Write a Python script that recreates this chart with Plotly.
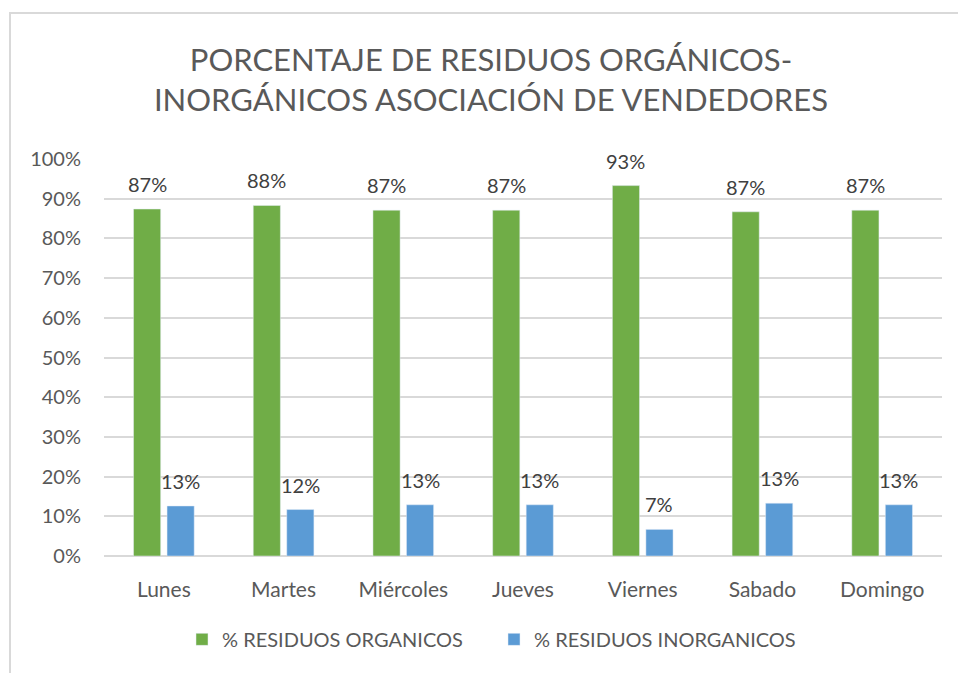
import plotly.graph_objects as go

dias = ["Lunes", "Martes", "Miércoles", "Jueves", "Viernes", "Sabado", "Domingo"]
organicos = [0.874, 0.883, 0.871, 0.871, 0.933, 0.867, 0.871]
inorganicos = [0.126, 0.117, 0.129, 0.129, 0.067, 0.133, 0.129]
nombre_org = "% RESIDUOS ORGANICOS"
nombre_inorg = "% RESIDUOS INORGANICOS"
titulo = "PORCENTAJE DE RESIDUOS ORGÁNICOS-<br>INORGÁNICOS ASOCIACIÓN DE VENDEDORES"

FONT = "Lato"
TXT = "#404040"
AX = "#595959"
W, H = 958, 673
ML, MR, MT, MB = 104, 16, 159, 117
BARGAP = 0.44
PW = W - ML - MR

fig = go.Figure()
fig.add_trace(go.Bar(x=dias, y=organicos, name=nombre_org, marker_color="#70AD47"))
fig.add_trace(go.Bar(x=dias, y=inorganicos, name=nombre_inorg, marker_color="#5B9BD5"))

# data labels above each bar (offset to each bar of the group)
cat_w = PW / len(dias)
slot = cat_w * (1 - BARGAP) / 2
annotations = []
for vals, sh in ((organicos, -slot / 2), (inorganicos, slot / 2)):
    for d, v in zip(dias, vals):
        annotations.append(dict(
            x=d, y=v, xref="x", yref="y", text=f"{v*100:.0f}%", showarrow=False,
            xanchor="center", yanchor="bottom", xshift=sh, yshift=11,
            font=dict(family=FONT, size=20, color=TXT),
        ))

fig.update_layout(
    width=W, height=H,
    margin=dict(l=ML, r=MR, t=MT, b=MB),
    paper_bgcolor="white", plot_bgcolor="white",
    barmode="group", bargap=BARGAP, bargroupgap=0.19,
    font=dict(family=FONT, color=AX, size=20),
    title=dict(text=titulo, x=0.5125, xanchor="center", y=0.895, yanchor="middle",
               font=dict(family=FONT, size=31, color=AX)),
    legend=dict(orientation="h", x=(182 - ML) / PW, xanchor="left", y=-0.21, yanchor="middle",
                font=dict(size=20, color=AX, family=FONT), itemwidth=30,
                entrywidth=267, entrywidthmode="pixels",
                traceorder="normal"),
    xaxis=dict(showline=False, ticks="", tickfont=dict(size=21, color=AX),
               ticklabelstandoff=19),
    yaxis=dict(range=[0, 1], dtick=0.1, tickformat=".0%", showgrid=True,
               gridcolor="#d9d9d9", gridwidth=2, zeroline=True, zerolinecolor="#d9d9d9",
               zerolinewidth=2, ticks="", tickfont=dict(size=20, color=AX),
               ticklabelstandoff=22),
    annotations=annotations,
    shapes=[dict(type="rect", xref="paper", yref="paper",
                 x0=(10 - ML) / PW, x1=1.1, y0=-0.5,
                 y1=1 + (MT - 13) / (H - MT - MB),
                 line=dict(color="#d9d9d9", width=2), fillcolor="rgba(0,0,0,0)",
                 layer="below")],
)

fig.write_html("out.html", config={"displayModeBar": False},
               post_script="document.body.style.margin='0px';")
